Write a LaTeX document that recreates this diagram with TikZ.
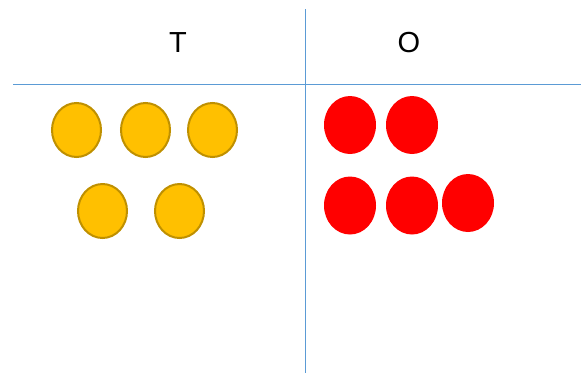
\documentclass[tikz,border=0pt]{standalone}
\usepackage{fontspec}
\setmainfont{Liberation Sans}
\usepackage{xcolor}
\usetikzlibrary{shapes.geometric}

\definecolor{gridblue}{HTML}{5B9BD5}
\definecolor{counteryellow}{HTML}{FFC000}
\definecolor{counteredge}{HTML}{BF9000}
\definecolor{counterred}{HTML}{FF0000}

\begin{document}
\begin{tikzpicture}[
    x=1pt, y=-1pt,
    yellowdot/.style={
        ellipse, draw=counteredge, line width=2pt, fill=counteryellow,
        minimum width=49pt, minimum height=54pt, inner sep=0pt
    },
    reddot/.style={
        ellipse, fill=counterred,
        minimum width=52pt, minimum height=58pt, inner sep=0pt
    },
    rule/.style={draw=gridblue, line width=1pt},
    heading/.style={font=\fontsize{29}{32}\selectfont, inner sep=0pt}
]

% Frame
\useasboundingbox (0,0) rectangle (581,373);

% Table lines
\coordinate (vtop) at (305.5,9);
\coordinate (vbot) at (305.5,373);
\coordinate (hleft) at (13,84);
\coordinate (hright) at (581,84);
\draw[rule] (vtop) -- (vbot);
\draw[rule] (hleft) -- (hright);

% Column headings
\node[heading] (tens) at (178,43) {T};
\node[heading] (ones) at (409,43) {O};

% Tens counters
\node[yellowdot] (t1) at (76.5,130) {};
\node[yellowdot] (t2) at (145.5,130) {};
\node[yellowdot] (t3) at (212.5,130) {};
\node[yellowdot] (t4) at (102.5,211) {};
\node[yellowdot] (t5) at (179.5,211) {};

% Ones counters
\node[reddot] (o1) at (350,125) {};
\node[reddot] (o2) at (412,125) {};
\node[reddot] (o3) at (350,205.5) {};
\node[reddot] (o4) at (412,205.5) {};
\node[reddot] (o5) at (468,203) {};

\end{tikzpicture}
\end{document}
